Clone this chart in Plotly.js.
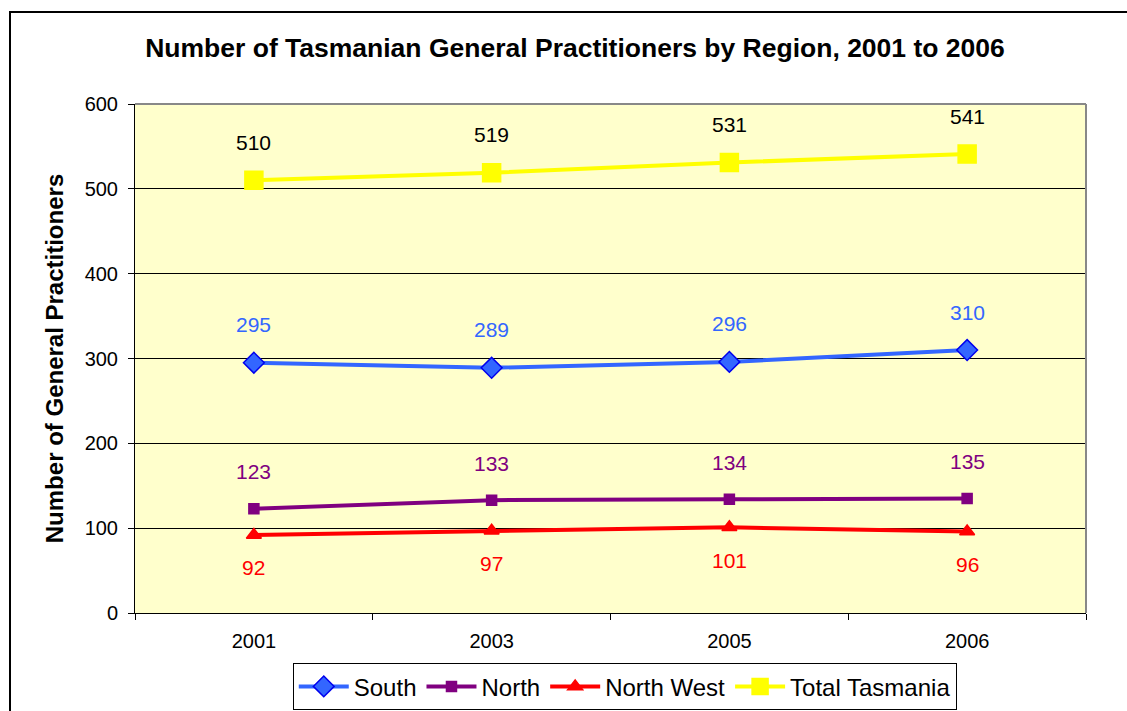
<!DOCTYPE html>
<html>
<head>
<meta charset="utf-8">
<script src="https://cdn.plot.ly/plotly-3.0.1.min.js"></script>
<style>
html,body{margin:0;padding:0;background:#fff;}
#chart{width:1127px;height:711px;}
</style>
</head>
<body>
<div id="chart"></div>
<script>
const years = ["2001", "2003", "2005", "2006"];
const south = [295, 289, 296, 310];
const north = [123, 133, 134, 135];
const northWest = [92, 97, 101, 96];
const totalTas = [510, 519, 531, 541];
const yTicks = [0, 100, 200, 300, 400, 500, 600];

const seriesDefs = [
  {name: "South", y: south, color: "#3366FF", symbol: "diamond", size: 16, mline: "#0000EE", labelColor: "#3366FF", shift: 38},
  {name: "North", y: north, color: "#800080", symbol: "square", size: 10, mline: "#800080", labelColor: "#800080", shift: 37},
  {name: "North West", y: northWest, color: "#FF0000", symbol: "triangle-up", size: 13, mline: "#FF0000", labelColor: "#FF0000", shift: -33},
  {name: "Total Tasmania", y: totalTas, color: "#FFFF00", symbol: "square", size: 18, mline: "#FFFF00", labelColor: "#000000", shift: 38}
];

const traces = seriesDefs.map(s => ({
  type: "scatter",
  mode: "lines+markers",
  name: s.name,
  x: years,
  y: s.y,
  line: {color: s.color, width: 4},
  marker: {symbol: s.symbol, size: s.size, color: s.color, line: {color: s.mline, width: 1.5}},
  cliponaxis: false
}));

const annotations = [];
seriesDefs.forEach(s => {
  s.y.forEach((v, i) => {
    annotations.push({
      x: i, y: v, xref: "x", yref: "y",
      text: String(v), showarrow: false, yshift: s.shift,
      font: {family: "Liberation Sans, Arial, sans-serif", size: 21, color: s.labelColor}
    });
  });
});

const layout = {
  width: 1127, height: 711,
  margin: {l: 135, r: 41, t: 104, b: 98, autoexpand: false},
  paper_bgcolor: "#FFFFFF",
  plot_bgcolor: "#FFFFCC",
  font: {family: "Liberation Sans, Arial, sans-serif", size: 20, color: "#000"},
  title: {
    text: "<b>Number of Tasmanian General Practitioners by Region, 2001 to 2006</b>",
    font: {size: 26.5, color: "#000"},
    x: 575 / 1127, xref: "container", xanchor: "center",
    y: 1 - 48 / 711, yref: "container", yanchor: "middle"
  },
  xaxis: {
    type: "category",
    range: [-0.5, 3.5],
    tickson: "boundaries",
    ticks: "outside", ticklen: 6, tickcolor: "#000", tickwidth: 1,
    ticklabelstandoff: 10,
    showline: true, linecolor: "#000", linewidth: 1,
    showgrid: false,
    tickfont: {size: 20},
    fixedrange: true
  },
  yaxis: {
    range: [0, 600],
    tickvals: yTicks,
    ticktext: yTicks.map(String),
    ticks: "outside", ticklen: 6, tickcolor: "#000", tickwidth: 1,
    ticklabelstandoff: 6,
    showline: true, linecolor: "#000", linewidth: 1,
    showgrid: true, gridcolor: "#000", gridwidth: 1,
    zeroline: false,
    tickfont: {size: 20},
    title: {text: "<b>Number of General Practitioners</b>", font: {size: 24}, standoff: 14},
    fixedrange: true
  },
  showlegend: true,
  legend: {
    orientation: "h",
    x: 0.515, xanchor: "center",
    y: -0.145, yanchor: "middle",
    bordercolor: "#000", borderwidth: 1,
    bgcolor: "#FFFFFF",
    font: {size: 24},
    itemwidth: 50,
    tracegroupgap: 0
  },
  annotations: annotations,
  shapes: [
    {type: "line", xref: "paper", yref: "paper", x0: 0, x1: 1, y0: 1, y1: 1, line: {color: "#888", width: 2}},
    {type: "line", xref: "paper", yref: "paper", x0: 1, x1: 1, y0: 0, y1: 1, line: {color: "#888", width: 2}},
    {type: "rect", xref: "paper", yref: "paper", x0: -125/951, x1: 1.06, y0: -0.2, y1: (613-12)/509, line: {color: "#000", width: 2}}
  ]
};

Plotly.newPlot("chart", traces, layout, {displayModeBar: false, staticPlot: true});
</script>
</body>
</html>
